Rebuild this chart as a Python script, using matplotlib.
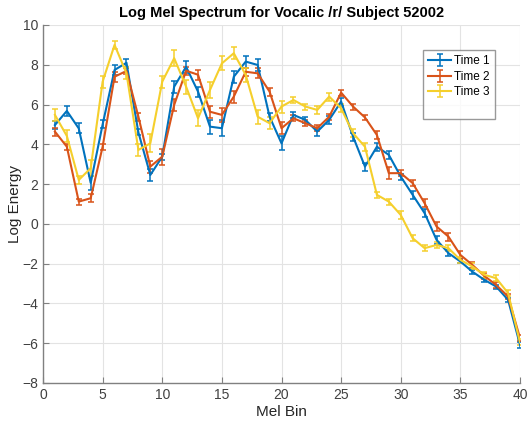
import matplotlib
matplotlib.use("Agg")
import matplotlib.pyplot as plt
from matplotlib.lines import Line2D
import numpy as np

plt.rcParams['font.family'] = ['Liberation Sans', 'DejaVu Sans']

mel_bin = list(range(1, 41))

time1 = [4.97, 5.68, 4.80, 2.06, 5.00, 7.74, 8.10, 4.60, 2.46, 3.38,
         6.90, 7.90, 6.65, 4.89, 4.81, 7.40, 8.16, 7.99, 5.39, 4.05,
         5.48, 5.23, 4.64, 5.23, 6.15, 4.39, 2.88, 3.88, 3.47, 2.38,
         1.46, 0.54, -0.80, -1.47, -1.89, -2.40, -2.81, -3.15, -3.82, -6.08]
time2 = [4.64, 3.88, 1.12, 1.29, 3.88, 7.40, 7.69, 5.39, 2.88, 3.38,
         5.98, 7.70, 7.50, 5.64, 5.48, 6.40, 7.65, 7.57, 6.65, 4.81,
         5.31, 5.06, 4.81, 5.39, 6.60, 5.90, 5.35, 4.47, 2.55, 2.55,
         2.05, 1.04, -0.13, -0.64, -1.56, -2.06, -2.61, -3.07, -3.65, -5.74]
time3 = [5.48, 4.42, 2.21, 2.80, 7.15, 9.00, 7.57, 3.72, 4.05, 7.15,
         8.33, 6.90, 5.31, 6.73, 8.07, 8.58, 7.49, 5.39, 5.06, 5.90,
         6.23, 5.90, 5.73, 6.40, 5.81, 4.56, 3.88, 1.46, 1.12, 0.45,
         -0.72, -1.22, -1.06, -1.22, -1.81, -2.14, -2.56, -2.73, -3.48, -5.96]

err1 = [0.20, 0.25, 0.25, 0.35, 0.20, 0.25, 0.20, 0.15, 0.30, 0.15,
        0.30, 0.30, 0.25, 0.35, 0.40, 0.30, 0.30, 0.30, 0.20, 0.35,
        0.15, 0.15, 0.20, 0.20, 0.20, 0.20, 0.20, 0.20, 0.20, 0.15,
        0.20, 0.20, 0.20, 0.15, 0.10, 0.10, 0.10, 0.10, 0.10, 0.15]
err2 = [0.20, 0.15, 0.15, 0.20, 0.15, 0.25, 0.15, 0.20, 0.30, 0.40,
        0.30, 0.20, 0.25, 0.30, 0.35, 0.30, 0.20, 0.25, 0.20, 0.30,
        0.15, 0.15, 0.15, 0.15, 0.15, 0.15, 0.15, 0.20, 0.30, 0.15,
        0.15, 0.20, 0.25, 0.20, 0.20, 0.15, 0.15, 0.15, 0.15, 0.15]
err3 = [0.30, 0.30, 0.20, 0.40, 0.30, 0.20, 0.30, 0.30, 0.45, 0.30,
        0.40, 0.35, 0.40, 0.40, 0.35, 0.30, 0.35, 0.35, 0.30, 0.30,
        0.15, 0.15, 0.20, 0.20, 0.20, 0.20, 0.20, 0.15, 0.15, 0.20,
        0.15, 0.15, 0.15, 0.15, 0.15, 0.15, 0.15, 0.15, 0.15, 0.15]

series = [("Time 1", time1, err1, "#0072BD"),
          ("Time 2", time2, err2, "#D95319"),
          ("Time 3", time3, err3, "#F5CF2C")]

fig = plt.figure(figsize=(5.28, 4.26), dpi=100)
ax = fig.add_axes([43/528, 1-383/426, 477/528, 358/426])

handles, labels = [], []
for label, vals, errs, col in series:
    h = ax.errorbar(mel_bin, vals, yerr=errs, color=col, lw=1.5, elinewidth=1.1,
                    capsize=2.5, capthick=1.1, label=label)
    handles.append(h)
    labels.append(label)
handles.append(Line2D([], [], color='none'))
labels.append(' ')

ax.set_xlim(0, 40)
ax.set_ylim(-8, 10)
ax.set_xticks(range(0, 41, 5))
ax.set_yticks(range(-8, 11, 2))
ax.grid(True, color='#E3E3E3', lw=0.8)
ax.set_axisbelow(True)
for s in ['top', 'right']:
    ax.spines[s].set_visible(False)
for s in ['left', 'bottom']:
    ax.spines[s].set_color('#808080')
    ax.spines[s].set_linewidth(1.0)
ax.tick_params(direction='in', length=4, colors='#808080', labelcolor='#404040',
               labelsize=10)
ax.set_xlabel("Mel Bin", fontsize=11, color='#262626', labelpad=2)
ax.set_ylabel("Log Energy", fontsize=11, color='#262626', labelpad=0)
ax.set_title("Log Mel Spectrum for Vocalic /r/ Subject 52002", fontsize=10.5,
             fontweight='bold', pad=6)

leg = ax.legend(handles, labels, loc='upper left',
                bbox_to_anchor=(380/477, (383-50)/358),
                fontsize=8.5, frameon=True, fancybox=False, edgecolor='#808080',
                borderpad=0.45, handlelength=1.9, handletextpad=0.3,
                labelspacing=0.3, borderaxespad=0)
leg.get_frame().set_linewidth(1.0)

fig.savefig("out.png", dpi=100)
